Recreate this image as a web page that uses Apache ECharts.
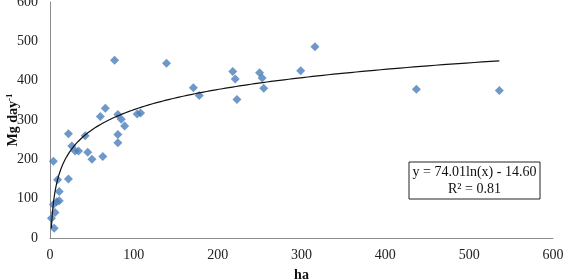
<!DOCTYPE html>
<html><head><meta charset="utf-8">
<script src="https://cdn.jsdelivr.net/npm/echarts@6/dist/echarts.min.js"></script>
<style>html,body{margin:0;padding:0;background:#fff}#c{width:564px;height:280px}</style>
</head><body><div id="c"></div>
<script>
const xValues = [1.7,5,4,6,4,8,11,11,9,22,22,26,30,34,42,45,50,63,60,66,77,81,85,89,81,81,104,108,139,171,178,218,221,223,250,253,255,299,316,437,536];
const yValues = [50,25,85,65,195,92,95,118,148,150,265,234,221,221,260,218,200,207,309,330,452,314,302,285,263,242,315,318,444,382,362,423,404,352,420,407,381,425,486,378,375];
const xTicks = [0,100,200,300,400,500,600];
const yTicks = [0,100,200,300,400,500,600];
const fitA = 74.01, fitB = -14.60;
const fitLabel = ['y = 74.01ln(x) - 14.60', 'R\u00b2 = 0.81'];
const xTitle = 'ha';
const yTitle = ['Mg day', '-1'];

const pts = xValues.map((x,i)=>[x,yValues[i]]);
const xmin = Math.min(...xValues), xmax = Math.max(...xValues);
const trend = [];
for (let i=0;i<=300;i++){ const x = xmin*Math.pow(xmax/xmin,i/300); trend.push([x, fitA*Math.log(x)+fitB]); }

const font = '"Liberation Serif","Times New Roman",serif';
const chart = echarts.init(document.getElementById('c'));
chart.setOption({
  animation:false,
  grid:{left:50,right:11,top:2,bottom:42,containLabel:false,outerBoundsMode:'none'},
  xAxis:{type:'value',min:xTicks[0],max:xTicks[xTicks.length-1],interval:100,
    name:xTitle,nameLocation:'middle',nameGap:30,
    nameTextStyle:{fontFamily:font,fontWeight:'bold',fontSize:14,color:'#111'},
    axisLine:{lineStyle:{color:'#8c8c8c',width:1}},axisTick:{show:false},splitLine:{show:false},
    axisLabel:{fontFamily:font,fontSize:14,color:'#222',margin:10}},
  yAxis:{type:'value',min:yTicks[0],max:yTicks[yTicks.length-1],interval:100,
    axisLine:{show:true,lineStyle:{color:'#8c8c8c',width:1}},axisTick:{show:false},splitLine:{show:false},
    axisLabel:{fontFamily:font,fontSize:14,color:'#222',margin:12}},
  series:[
    {type:'scatter',data:pts,symbol:'diamond',symbolSize:[9,9],itemStyle:{color:'#4a7ebb'},z:3},
    {type:'line',data:trend,showSymbol:false,smooth:false,lineStyle:{color:'#111',width:1.2},z:4,silent:true}
  ],
  graphic:[
    {type:'text',x:13,y:120,rotation:Math.PI/2,style:{text:'{a|'+yTitle[0]+'}{s|'+yTitle[1]+'}',align:'center',verticalAlign:'middle',
      rich:{a:{font:'bold 14px '+font,fill:'#111',lineHeight:16},s:{font:'bold 9px '+font,fill:'#111',verticalAlign:'top',lineHeight:16,padding:[0,0,5,0]}}},z:11},
    {type:'rect',shape:{x:409,y:162,width:131,height:37},style:{fill:'#fff',stroke:'#222',lineWidth:1},z:10},
    {type:'text',x:474.5,y:172,style:{text:fitLabel[0],font:'14px '+font,fill:'#111',align:'center',verticalAlign:'middle'},z:11},
    {type:'text',x:474.5,y:189,style:{text:fitLabel[1],font:'14px '+font,fill:'#111',align:'center',verticalAlign:'middle'},z:11}
  ]
});
</script></body></html>
